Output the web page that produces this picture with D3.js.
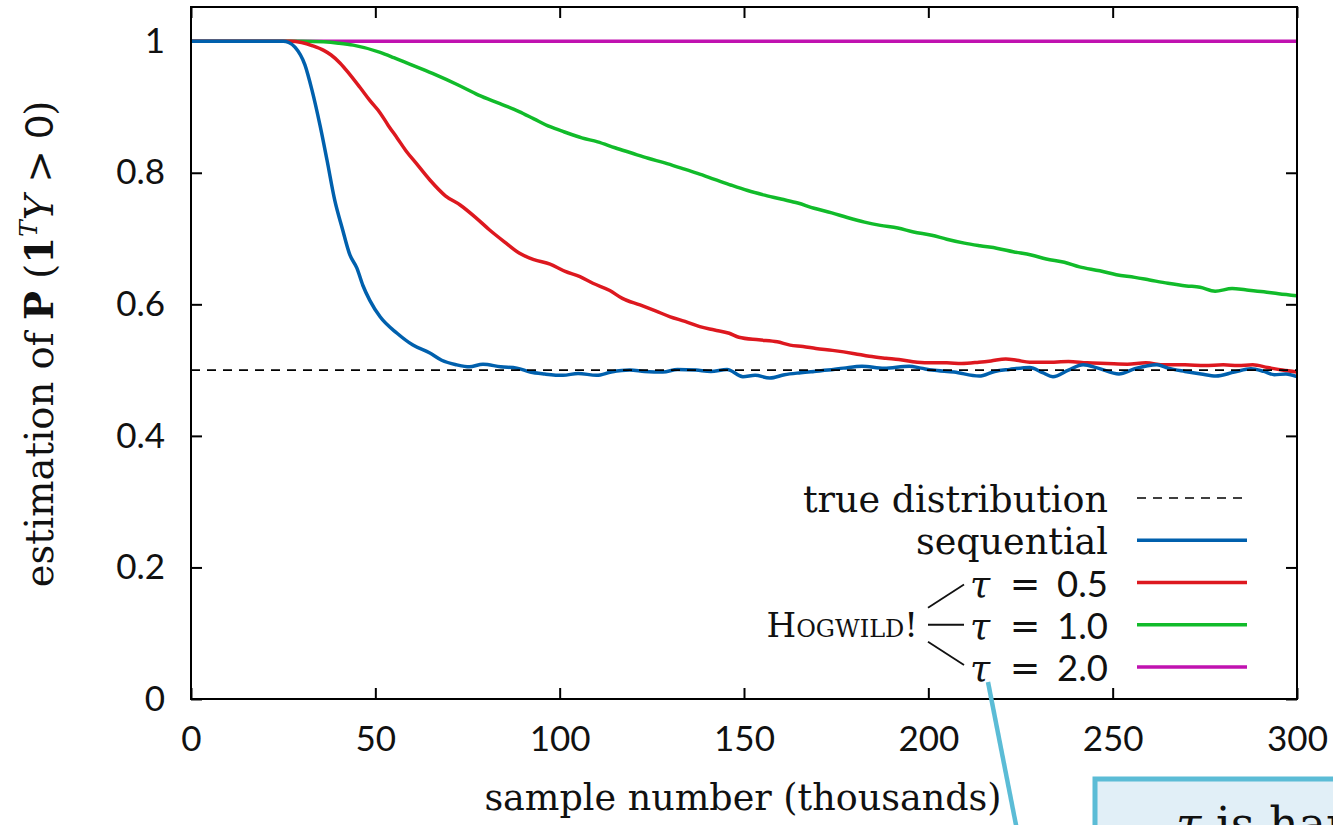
<!DOCTYPE html>
<html>
<head>
<meta charset="utf-8">
<script src="https://cdn.jsdelivr.net/npm/d3@7"></script>
<style>
  body { margin: 0; background: #fff; overflow: hidden; }
  svg { display: block; }
  .axis text { font-family: Lato, "Noto Sans", sans-serif; font-size: 35px; fill: #111; }
  .axis path { display: none; }
  .axis line { stroke: #000; stroke-width: 2px; }
  .serif { font-family: "DejaVu Serif", "Liberation Serif", serif; fill: #111; }
  .num { font-family: Lato, "Noto Sans", sans-serif; }
</style>
</head>
<body>
<div id="chart"></div>
<script>
var svgWidth = 1333;
var svgHeight = 825;

var margin = { top: 7, right: 36, bottom: 126, left: 191 };
var width = svgWidth - margin.left - margin.right;
var height = svgHeight - margin.top - margin.bottom;

// ---- data (x in thousands of samples) ----
var seqK = [0, 25, 26.5, 28.2, 30.9, 32.8, 35, 36.9, 39, 41, 43.1, 45, 46.6, 48.5, 51.3, 55.9, 60.2, 64.8, 68, 72.1,
  75.5, 79.2, 84, 88.4, 92, 96, 100.9, 105, 110, 114, 119, 123, 128, 132, 137, 141, 145.4, 149.7, 153, 157,
  161, 165.4, 169, 172.8, 177, 182, 188, 194.8, 198, 201, 207, 213.8, 218, 222, 227.5, 231, 233.8, 238, 242, 246,
  251.7, 256, 262, 265, 269.6, 274, 278, 283, 287.5, 291, 293.8, 297, 300];
var seqP = [1, 1, 0.998, 0.991, 0.964, 0.926, 0.872, 0.819, 0.758, 0.716, 0.675, 0.655, 0.629, 0.606, 0.581, 0.556, 0.538, 0.526, 0.515, 0.508,
  0.505, 0.509, 0.505, 0.503, 0.497, 0.494, 0.492, 0.495, 0.492, 0.497, 0.500, 0.498, 0.497, 0.501, 0.500, 0.498, 0.501, 0.490, 0.492, 0.488,
  0.493, 0.496, 0.498, 0.500, 0.503, 0.506, 0.503, 0.506, 0.503, 0.500, 0.497, 0.491, 0.498, 0.501, 0.504, 0.496, 0.490, 0.500, 0.508, 0.503,
  0.494, 0.502, 0.508, 0.503, 0.498, 0.494, 0.491, 0.497, 0.502, 0.498, 0.493, 0.494, 0.490];

var tau05K = [0, 27, 30, 33, 36, 38, 40.4, 43, 45.8, 48.5, 51.3, 53.5, 55.9, 58.5, 61, 64.8, 69, 73, 77, 81,
  85, 89, 93, 97.4, 101.5, 105.5, 109, 113.6, 117, 121.8, 126, 130, 134, 138, 142, 146, 148.6, 154, 159, 162.5,
  166, 169.5, 174, 180, 184, 188.5, 192, 197, 201, 205, 209, 213.7, 217, 221, 224, 227.5, 232, 238, 243, 248.5,
  254, 259, 264, 269.6, 275, 280, 284, 288, 292, 296, 300];
var tau05P = [1, 1, 0.998, 0.993, 0.986, 0.979, 0.967, 0.950, 0.930, 0.910, 0.891, 0.872, 0.853, 0.832, 0.815, 0.789, 0.765, 0.751, 0.733, 0.713,
  0.695, 0.678, 0.668, 0.661, 0.650, 0.642, 0.632, 0.621, 0.609, 0.599, 0.590, 0.581, 0.574, 0.566, 0.561, 0.556, 0.550, 0.546, 0.543, 0.538,
  0.536, 0.533, 0.530, 0.525, 0.521, 0.518, 0.516, 0.512, 0.511, 0.511, 0.510, 0.512, 0.514, 0.517, 0.515, 0.512, 0.512, 0.513, 0.511, 0.510,
  0.509, 0.511, 0.508, 0.508, 0.507, 0.508, 0.507, 0.508, 0.504, 0.500, 0.497];

var tau10K = [0, 30, 36, 40, 44, 51.3, 55, 58.5, 65.5, 72.6, 78, 83.8, 89, 93, 97.4, 101.3, 106, 110.3, 115, 119.5,
  124, 128.5, 133, 137.4, 142, 146.6, 151, 155.6, 160, 164.6, 169, 173.8, 178, 182.7, 187, 191.7, 196, 200.9, 205, 209.8,
  214, 218.8, 223, 227.9, 232, 236.9, 241, 246.5, 251, 256, 260, 265, 270, 273.7, 277.8, 282.4, 286, 291, 295, 300];
var tau10P = [1, 1, 0.999, 0.997, 0.994, 0.983, 0.975, 0.967, 0.951, 0.933, 0.918, 0.905, 0.893, 0.882, 0.870, 0.862, 0.853, 0.847, 0.838, 0.830,
  0.822, 0.815, 0.807, 0.799, 0.790, 0.781, 0.773, 0.766, 0.760, 0.754, 0.746, 0.739, 0.732, 0.725, 0.720, 0.716, 0.710, 0.705, 0.699, 0.693,
  0.689, 0.685, 0.680, 0.675, 0.669, 0.664, 0.657, 0.651, 0.645, 0.641, 0.637, 0.632, 0.628, 0.626, 0.620, 0.624, 0.622, 0.619, 0.616, 0.613];

var tau20K = [0, 300];
var tau20P = [1, 1];

var trueK = [0, 300];
var trueP = [0.5, 0.5];

var xTicks = [0, 50, 100, 150, 200, 250, 300];
var yTicks = [0, 0.2, 0.4, 0.6, 0.8, 1];

var legendNames = ["true distribution", "sequential", "0.5", "1.0", "2.0"];
var legendColors = ["#000000", "#0060ad", "#dd181f", "#11bb2a", "#c012b0"];

function pairs(ks, ps) { return ks.map(function (k, i) { return [k, ps[i]]; }); }

var svg = d3.select("#chart")
  .append("svg")
  .attr("width", svgWidth)
  .attr("height", svgHeight);

var chartGroup = svg.append("g")
  .attr("transform", `translate(${margin.left}, ${margin.top})`);

var xScale = d3.scaleLinear().domain([0, 300]).range([0, width]);
var yScale = d3.scaleLinear().domain([0, 1.052]).range([height, 0]);

// axes, ticks pointing inward on all four sides
chartGroup.append("g")
  .attr("class", "axis")
  .attr("transform", `translate(0, ${height})`)
  .call(d3.axisBottom(xScale).tickValues(xTicks).tickSizeInner(-11).tickSizeOuter(0).tickPadding(27));

chartGroup.append("g")
  .attr("class", "axis")
  .call(d3.axisLeft(yScale).tickValues(yTicks).tickSizeInner(-11).tickSizeOuter(0).tickPadding(26)
    .tickFormat(function (d) { return String(d); }));

chartGroup.append("g")
  .attr("class", "axis")
  .call(d3.axisTop(xScale).tickValues(xTicks).tickSizeInner(-11).tickSizeOuter(0).tickFormat(""));

chartGroup.append("g")
  .attr("class", "axis")
  .attr("transform", `translate(${width}, 0)`)
  .call(d3.axisRight(yScale).tickValues(yTicks).tickSizeInner(-11).tickSizeOuter(0).tickFormat(""));

chartGroup.append("clipPath").attr("id", "plotclip")
  .append("rect").attr("width", width).attr("height", height);

var line = d3.line()
  .curve(d3.curveMonotoneX)
  .x(d => xScale(d[0]))
  .y(d => yScale(d[1]));

var plotLayer = chartGroup.append("g").attr("clip-path", "url(#plotclip)");

var series = [
  { data: pairs(tau20K, tau20P), color: legendColors[4] },
  { data: pairs(tau10K, tau10P), color: legendColors[3] },
  { data: pairs(tau05K, tau05P), color: legendColors[2] },
  { data: pairs(seqK, seqP), color: legendColors[1] }
];

plotLayer.selectAll("path.series")
  .data(series)
  .enter()
  .append("path")
  .attr("class", "series")
  .attr("d", d => line(d.data))
  .attr("fill", "none")
  .attr("stroke", d => d.color)
  .attr("stroke-width", 3.5)
  .attr("stroke-linejoin", "round");

plotLayer.append("path")
  .attr("d", line(pairs(trueK, trueP)))
  .attr("fill", "none")
  .attr("stroke", "#000")
  .attr("stroke-width", 1.6)
  .attr("stroke-dasharray", "9,7");

// frame
chartGroup.append("rect")
  .attr("width", width)
  .attr("height", height)
  .attr("fill", "none")
  .attr("stroke", "#000")
  .attr("stroke-width", 2);

// axis titles
chartGroup.append("text")
  .attr("class", "serif")
  .attr("x", 743 - margin.left)
  .attr("y", 810 - margin.top)
  .attr("text-anchor", "middle")
  .attr("font-size", 36.5)
  .text("sample number (thousands)");

var yLabel = svg.append("text")
  .attr("class", "serif")
  .attr("transform", "translate(53, 344) rotate(-90)")
  .attr("text-anchor", "middle")
  .attr("font-size", 38.5);
yLabel.append("tspan").text("estimation of ");
yLabel.append("tspan").attr("font-weight", "bold").text("P");
yLabel.append("tspan").text(" (");
yLabel.append("tspan").attr("font-weight", "bold").text("1");
yLabel.append("tspan").attr("font-style", "italic").attr("font-size", 25).attr("dy", -16).text("T");
yLabel.append("tspan").attr("font-style", "italic").attr("dy", 16).text("Y");
yLabel.append("tspan").text(" > ");
yLabel.append("tspan").attr("class", "num").text("0");
yLabel.append("tspan").text(")");

// legend
var rowY = d3.scaleLinear().domain([0, 4]).range([498 - margin.top, 667 - margin.top]);
var legendTextX = 1108 - margin.left;
var legendLineX0 = 1137 - margin.left;
var legendLineX1 = 1247 - margin.left;

var legend = chartGroup.append("g");
legendNames.forEach(function (name, i) {
  var t = legend.append("text")
    .attr("class", "serif")
    .attr("x", legendTextX)
    .attr("y", rowY(i) + 14)
    .attr("text-anchor", "end")
    .attr("font-size", 36.5);
  if (i < 2) {
    t.text(name);
  } else {
    t.append("tspan").attr("font-style", "italic").text("τ");
    t.append("tspan").attr("dx", 8).text(" = ");
    t.append("tspan").attr("class", "num").attr("dx", 5).text(name);
  }
  legend.append("line")
    .attr("x1", legendLineX0)
    .attr("x2", legendLineX1)
    .attr("y1", rowY(i))
    .attr("y2", rowY(i))
    .attr("stroke", legendColors[i])
    .attr("stroke-width", i === 0 ? 1.6 : 3.5)
    .attr("stroke-dasharray", i === 0 ? "9,7" : null);
});

// Hogwild! bracket
legend.append("text")
  .attr("class", "serif")
  .attr("x", 918 - margin.left)
  .attr("y", rowY(3) + 12)
  .attr("text-anchor", "end")
  .attr("font-size", 34)
  .style("font-variant", "small-caps")
  .text("Hogwild!");

[2, 3, 4].forEach(function (i) {
  var y0 = rowY(3) + (i - 3) * 17;
  legend.append("line")
    .attr("x1", 928 - margin.left)
    .attr("x2", 964 - margin.left)
    .attr("y1", y0)
    .attr("y2", rowY(i) + (i - 3) * -2)
    .attr("stroke", "#111")
    .attr("stroke-width", 1.8);
});

// callout (cut off at the edge of the picture)
svg.append("line")
  .attr("x1", 988).attr("y1", 682)
  .attr("x2", 1017).attr("y2", 830)
  .attr("stroke", "#5bbcd6")
  .attr("stroke-width", 4.5);

svg.append("rect")
  .attr("x", 1095).attr("y", 779)
  .attr("width", 300).attr("height", 100)
  .attr("fill", "#e1eff7")
  .attr("stroke", "#5bbcd6")
  .attr("stroke-width", 5);

var note = svg.append("text")
  .attr("class", "serif")
  .attr("x", 1176)
  .attr("y", 840)
  .attr("font-size", 46);
note.append("tspan").attr("font-style", "italic").text("τ");
note.append("tspan").text(" is hard");
</script>
</body>
</html>
